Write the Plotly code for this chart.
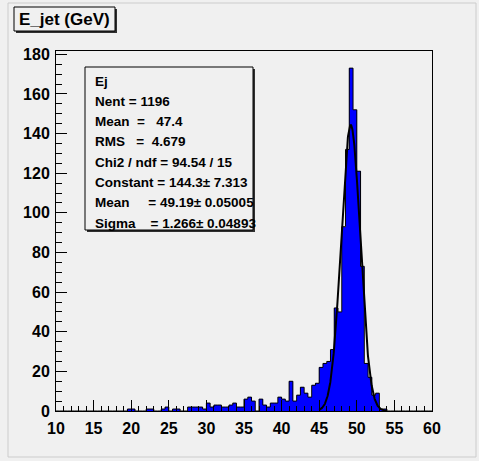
import numpy as np
import plotly.graph_objects as go

# --- histogram data (100 bins of 0.5 GeV from 10 to 60) ---
x_low, x_high, bin_width = 10.0, 60.0, 0.5
counts = [
    0, 0, 0, 0, 0, 0, 0, 0, 0, 0,        # 10.0 - 15.0
    0, 0, 0, 0, 0, 0, 0, 0, 0, 1,        # 15.0 - 20.0
    1, 0, 0, 0, 1, 1, 0, 0, 1, 2,        # 20.0 - 25.0
    0, 1, 1, 0, 0, 2, 2, 2, 2, 1,        # 25.0 - 30.0
    4, 2, 3, 3, 2, 2, 3, 4, 2, 2,        # 30.0 - 35.0
    6, 7, 5, 0, 6, 3, 2, 4, 4, 7,        # 35.0 - 40.0
    6, 5, 15, 5, 8, 12, 9, 7, 13, 14,    # 40.0 - 45.0
    22, 24, 25, 31, 52, 50, 93, 132, 173, 152,  # 45.0 - 50.0
    121, 73, 24, 17, 8, 9, 1, 1, 0, 0,   # 50.0 - 55.0
    0, 0, 0, 0, 0, 0, 0, 0, 0, 0,        # 55.0 - 60.0
]
x_tick_vals = [10, 15, 20, 25, 30, 35, 40, 45, 50, 55, 60]
y_tick_vals = [0, 20, 40, 60, 80, 100, 120, 140, 160, 180]

# gaussian fit shown in the stat box
fit_constant, fit_mean, fit_sigma = 144.3, 49.19, 1.266
fit_lo, fit_hi = 45.0, 54.0

title_text = "E_jet (GeV)"
stat_lines = [
    "Ej",
    "Nent = 1196",
    "Mean  =   47.4",
    "RMS   =  4.679",
    "Chi2 / ndf = 94.54 / 15",
    "Constant = 144.3\u00b1 7.313",
    "Mean     = 49.19\u00b1 0.05005",
    "Sigma    = 1.266\u00b1 0.04893",
]

BG = '#f0f0f0'
W, H = 479, 461
L, R, T, B = 56, 432, 51, 411   # frame in pixels


def px(x):
    return (x - L) / (R - L)


def py(y):
    return (B - y) / (B - T)


n = len(counts)
edges = x_low + bin_width * np.arange(n + 1)
centers = edges[:-1] + bin_width / 2
y_max = max(counts) * 1.05

fig = go.Figure()
fig.add_trace(go.Bar(
    x=centers, y=counts, width=bin_width,
    marker=dict(color='#0000ff', line=dict(width=0)),
    hoverinfo='skip'
))
# histogram outline as a step contour
fig.add_trace(go.Scatter(
    x=edges, y=counts + [counts[-1]], mode='lines',
    line=dict(color='black', width=1, shape='hv'),
    hoverinfo='skip'
))
xf = np.linspace(fit_lo, fit_hi, 400)
yf = fit_constant * np.exp(-0.5 * ((xf - fit_mean) / fit_sigma) ** 2)
fig.add_trace(go.Scatter(
    x=xf, y=yf, mode='lines',
    line=dict(color='black', width=2),
    hoverinfo='skip'
))

axis_common = dict(
    showgrid=False, zeroline=False,
    showline=True, linecolor='black', linewidth=1, mirror=True,
    ticks='inside', tickcolor='black', tickwidth=1,
    tickfont=dict(family='Liberation Sans, Arial', size=16, color='black', weight='bold'),
)
fig.update_layout(
    width=W, height=H,
    paper_bgcolor=BG, plot_bgcolor=BG,
    margin=dict(l=L, r=W - R, t=T, b=H - B),
    showlegend=False, bargap=0,
    xaxis=dict(range=[x_low, x_high], tickvals=x_tick_vals, ticklen=11,
               minor=dict(dtick=1, tick0=10, ticks='inside', ticklen=5.5, tickcolor='black'),
               ticklabelstandoff=3, **axis_common),
    yaxis=dict(range=[0, y_max], tickvals=y_tick_vals, ticklen=11,
               minor=dict(dtick=5, tick0=0, ticks='inside', ticklen=5.5, tickcolor='black'),
               ticklabelstandoff=2, **axis_common),
)

shapes = []
# pad border
shapes.append(dict(type='rect', xref='paper', yref='paper',
                   x0=px(8), x1=px(476), y0=py(457), y1=py(3),
                   line=dict(color='#cccccc', width=1), fillcolor='rgba(0,0,0,0)', layer='below'))


def pave(x0, y0, x1, y1):
    shapes.append(dict(type='rect', xref='paper', yref='paper',
                       x0=px(x0 + 2), x1=px(x1 + 2), y0=py(y1 + 2), y1=py(y0 + 2),
                       line=dict(width=0), fillcolor='#303030'))
    shapes.append(dict(type='rect', xref='paper', yref='paper',
                       x0=px(x0), x1=px(x1), y0=py(y1), y1=py(y0),
                       line=dict(color='black', width=1), fillcolor=BG))


pave(14, 7, 115, 31)
pave(85, 67, 253, 230)
fig.update_layout(shapes=shapes)

fig.add_annotation(xref='paper', yref='paper', x=px(17), y=py(19.5),
                   xanchor='left', yanchor='middle', showarrow=False,
                   text=title_text,
                   font=dict(family='Liberation Sans, Arial', size=17, color='black', weight='bold'))
for i, line in enumerate(stat_lines):
    fig.add_annotation(xref='paper', yref='paper', x=px(93), y=py(81 + 20.3 * i),
                       xanchor='left', yanchor='middle', showarrow=False,
                       text=line.replace(' ', '\u00a0'),
                       font=dict(family='Liberation Sans, Arial', size=13.5, color='black', weight='bold'))

fig.write_html("out.html", config={'displayModeBar': False},
               post_script="document.body.style.margin='0';")
